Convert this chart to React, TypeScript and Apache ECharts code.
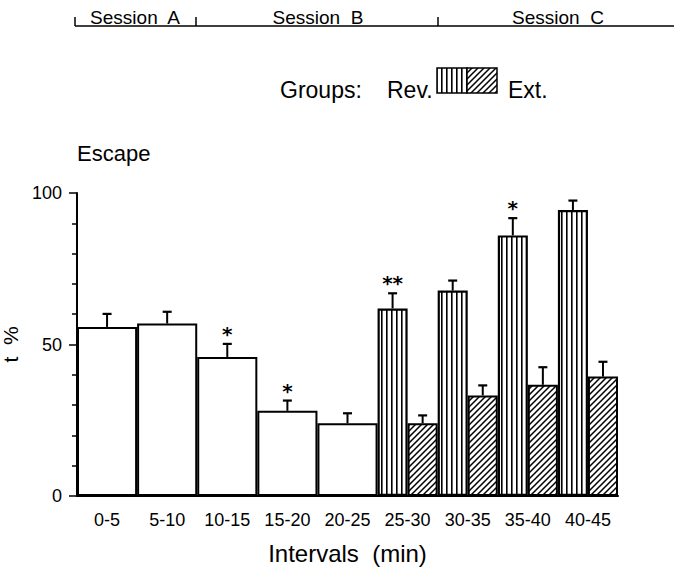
import React, { useEffect, useRef } from "react";
import * as echarts from "echarts";

// ---------- data ----------
const categories = ["0-5", "5-10", "10-15", "15-20", "20-25", "25-30", "30-35", "35-40", "40-45"];
const yTickLabels = [0, 50, 100];

// pooled groups (before the split, sessions A/B)
const pooledMean = [55.8, 56.9, 45.9, 28.1, 24.0, null, null, null, null];
const pooledErr = [4.3, 3.9, 4.3, 3.4, 3.3, null, null, null, null];
const pooledStars = ["", "", "*", "*", "", "", "", "", ""];

// Rev. group
const revMean = [null, null, null, null, null, 61.9, 67.8, 86.0, 94.4];
const revErr = [null, null, null, null, null, 5.0, 3.3, 5.7, 3.1];
const revStars = ["", "", "", "", "", "**", "", "*", ""];

// Ext. group
const extMean = [null, null, null, null, null, 24.0, 33.2, 36.7, 39.4];
const extErr = [null, null, null, null, null, 2.6, 3.3, 5.8, 4.9];
const extStars = ["", "", "", "", "", "", "", "", ""];

const sessionLabels = ["Session  A", "Session  B", "Session  C"];
const titleText = "Escape";
const yName = "t  %";
const xName = "Intervals  (min)";
const legendLabels = ["Groups:", "Rev.", "Ext."];

const FONT = "Liberation Sans";

function stripeCanvas(): HTMLCanvasElement {
  const c = document.createElement("canvas");
  c.width = 10;
  c.height = 10;
  const ctx = c.getContext("2d")!;
  ctx.fillStyle = "#fff";
  ctx.fillRect(0, 0, 10, 10);
  ctx.fillStyle = "#000";
  ctx.fillRect(1, 0, 1.6, 10);
  ctx.fillRect(6, 0, 1.6, 10);
  return c;
}

function hatchCanvas(): HTMLCanvasElement {
  const s = 6;
  const c = document.createElement("canvas");
  c.width = s;
  c.height = s;
  const ctx = c.getContext("2d")!;
  ctx.fillStyle = "#fff";
  ctx.fillRect(0, 0, s, s);
  ctx.strokeStyle = "#000";
  ctx.lineWidth = 1.5;
  ctx.beginPath();
  ctx.moveTo(-1, s + 1);
  ctx.lineTo(s + 1, -1);
  ctx.moveTo(-1, 1);
  ctx.lineTo(1, -1);
  ctx.moveTo(s - 1, s + 1);
  ctx.lineTo(s + 1, s - 1);
  ctx.stroke();
  return c;
}

function errorSeries(
  name: string,
  xAxisIndex: number,
  means: (number | null)[],
  errs: (number | null)[],
  stars: string[],
  offsetFrac: number
) {
  const data = means
    .map((m, i) => (m == null ? null : [i, m, errs[i] as number]))
    .filter((d) => d != null);
  return {
    type: "custom",
    name,
    xAxisIndex,
    yAxisIndex: 0,
    z: 10,
    silent: true,
    encode: { x: 0, y: 1 },
    data,
    renderItem: (params: any, api: any) => {
      const idx = api.value(0);
      const mean = api.value(1);
      const err = api.value(2);
      const band = api.size([1, 0])[0];
      const base = api.coord([idx, mean]);
      const top = api.coord([idx, mean + err]);
      const x = base[0] + offsetFrac * band;
      const children: any[] = [
        { type: "line", shape: { x1: x, y1: base[1], x2: x, y2: top[1] }, style: { stroke: "#000", lineWidth: 2 } },
        { type: "line", shape: { x1: x - 4.5, y1: top[1], x2: x + 4.5, y2: top[1] }, style: { stroke: "#000", lineWidth: 2.2 } },
      ];
      const star = stars[idx];
      if (star) {
        children.push({
          type: "text",
          x,
          y: top[1] - 10,
          style: {
            text: star,
            fill: "#000",
            font: "bold 20px 'DejaVu Sans'",
            align: "center",
            verticalAlign: "middle",
          },
        });
      }
      return { type: "group", children };
    },
  };
}

export default function App() {
  const ref = useRef<HTMLDivElement>(null);

  useEffect(() => {
    if (!ref.current) return;
    const chart = echarts.init(ref.current, null, { renderer: "svg" });
    const stripe = { image: stripeCanvas(), repeat: "repeat" };
    const hatch = { image: hatchCanvas(), repeat: "repeat" };

    const textStyle = (size: number) => ({ fill: "#000", font: `${size}px '${FONT}'` });

    const option: any = {
      animation: false,
      backgroundColor: "#fff",
      title: {
        text: titleText,
        left: 77,
        top: 142,
        padding: 0,
        textStyle: { fontFamily: FONT, fontSize: 22, fontWeight: "normal", color: "#000" },
      },
      grid: { left: 77, right: 56, top: 193, bottom: 78, containLabel: false, outerBoundsMode: "none" },
      xAxis: [
        {
          type: "category",
          data: categories,
          name: xName,
          nameLocation: "middle",
          nameGap: 45,
          nameTextStyle: { fontFamily: FONT, fontSize: 24, color: "#000" },
          axisLine: { show: true, lineStyle: { color: "#000", width: 2 } },
          axisTick: { show: false },
          axisLabel: { fontFamily: FONT, fontSize: 18, color: "#000", margin: 15, interval: 0 },
        },
        {
          type: "category",
          data: categories,
          show: false,
        },
      ],
      yAxis: {
        type: "value",
        min: 0,
        max: 100,
        interval: 50,
        name: yName,
        nameLocation: "middle",
        nameRotate: 90,
        nameGap: 42,
        nameTextStyle: { fontFamily: FONT, fontSize: 21, color: "#000" },
        axisLine: { show: true, lineStyle: { color: "#000", width: 2 } },
        axisTick: { show: true, inside: false, length: 8, lineStyle: { color: "#000", width: 1.5 } },
        minorTick: { show: true, splitNumber: 5, length: 5, lineStyle: { color: "#000", width: 1.5 } },
        splitLine: { show: false },
        axisLabel: {
          fontFamily: FONT,
          fontSize: 18,
          color: "#000",
          margin: 15,
          formatter: (v: number) => (yTickLabels.includes(v) ? String(v) : ""),
        },
      },
      series: [
        {
          type: "bar",
          name: "Pooled",
          xAxisIndex: 1,
          data: pooledMean,
          barWidth: "100%",
          itemStyle: { color: "#fff", borderColor: "#000", borderWidth: 2 },
          silent: true,
        },
        {
          type: "bar",
          name: "Rev.",
          xAxisIndex: 0,
          data: revMean,
          barGap: "0%",
          barCategoryGap: "0%",
          itemStyle: { color: stripe, borderColor: "#000", borderWidth: 2.2 },
          silent: true,
        },
        {
          type: "bar",
          name: "Ext.",
          xAxisIndex: 0,
          data: extMean,
          barGap: "0%",
          barCategoryGap: "0%",
          itemStyle: { color: hatch, borderColor: "#000", borderWidth: 2 },
          silent: true,
        },
        errorSeries("Pooled SE", 1, pooledMean, pooledErr, pooledStars, 0),
        errorSeries("Rev. SE", 0, revMean, revErr, revStars, -0.25),
        errorSeries("Ext. SE", 0, extMean, extErr, extStars, 0.25),
      ],
      graphic: [
        // session bar at top
        { type: "line", shape: { x1: 75, y1: 26, x2: 674, y2: 26 }, style: { stroke: "#000", lineWidth: 1.5 } },
        { type: "line", shape: { x1: 75, y1: 17, x2: 75, y2: 26 }, style: { stroke: "#000", lineWidth: 1.5 } },
        { type: "line", shape: { x1: 196, y1: 17, x2: 196, y2: 26 }, style: { stroke: "#000", lineWidth: 1.5 } },
        { type: "line", shape: { x1: 438, y1: 17, x2: 438, y2: 26 }, style: { stroke: "#000", lineWidth: 1.5 } },
        { type: "text", x: 135, y: 17, style: { ...textStyle(19), text: sessionLabels[0], align: "center", verticalAlign: "middle" } },
        { type: "text", x: 318, y: 17, style: { ...textStyle(19), text: sessionLabels[1], align: "center", verticalAlign: "middle" } },
        { type: "text", x: 558, y: 17, style: { ...textStyle(19), text: sessionLabels[2], align: "center", verticalAlign: "middle" } },
        // legend
        { type: "text", x: 280, y: 90, style: { ...textStyle(23), text: legendLabels[0], align: "left", verticalAlign: "middle" } },
        { type: "text", x: 387, y: 90, style: { ...textStyle(23), text: legendLabels[1], align: "left", verticalAlign: "middle" } },
        { type: "rect", shape: { x: 437, y: 68, width: 30, height: 25 }, style: { fill: stripe, stroke: "#000", lineWidth: 1.5 } },
        { type: "rect", shape: { x: 467, y: 68, width: 30, height: 25 }, style: { fill: hatch, stroke: "#000", lineWidth: 1.5 } },
        { type: "text", x: 508, y: 90, style: { ...textStyle(23), text: legendLabels[2], align: "left", verticalAlign: "middle" } },
      ],
    };
    chart.setOption(option);
    return () => chart.dispose();
  }, []);

  return (
    <div
      ref={ref}
      style={{ position: "absolute", left: 0, top: 0, width: 674, height: 574, background: "#fff" }}
    />
  );
}
